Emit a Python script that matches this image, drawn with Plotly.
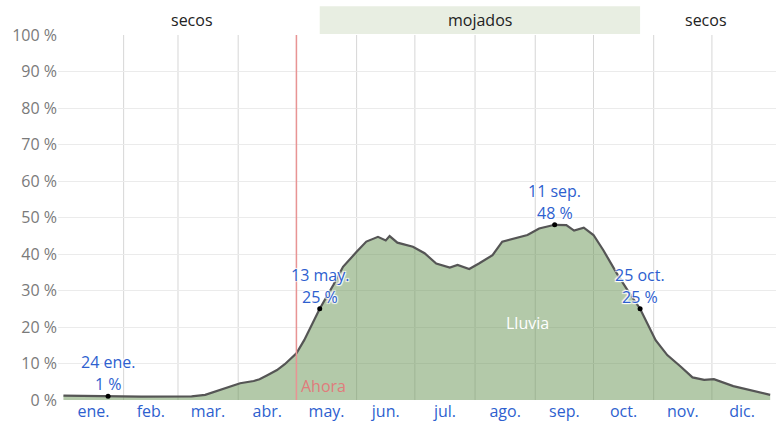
import plotly.graph_objects as go

# Daily chance of a wet day over the year (day of year, percent)
days = [0, 8, 15, 23, 30, 40, 50, 59, 66, 73, 78, 85, 91, 98, 101, 105, 110, 114,
        117, 120, 124, 132, 139, 144, 151, 156, 162, 166, 168, 172, 180, 186, 192,
        199, 203, 209, 214, 221, 226, 232, 239, 245, 253, 259, 263, 268, 273, 278,
        285, 291, 297, 305, 311, 318, 324, 330, 335, 345, 354, 364]
rain = [1.2, 1.1, 1.0, 1.0, 1.0, 0.9, 0.9, 0.8, 1.0, 1.4, 2.3, 3.5, 4.6, 5.2, 5.7,
        6.8, 8.2, 9.8, 11.4, 12.8, 16.4, 25.0, 31.5, 36.5, 40.6, 43.4, 44.7, 43.7,
        44.9, 43.1, 42.0, 40.2, 37.4, 36.3, 37.0, 35.9, 37.4, 39.7, 43.4, 44.3, 45.2,
        47.0, 48.0, 47.9, 46.4, 47.2, 45.2, 41.1, 34.7, 29.7, 25.0, 16.4, 12.3, 9.1,
        6.2, 5.5, 5.7, 3.8, 2.7, 1.4]

month_names = ["ene.", "feb.", "mar.", "abr.", "may.", "jun.",
               "jul.", "ago.", "sep.", "oct.", "nov.", "dic."]
month_starts = [0, 31, 59, 90, 120, 151, 181, 212, 243, 273, 304, 334, 365]
month_mids = [(a + b) / 2 for a, b in zip(month_starts[:-1], month_starts[1:])]

# Highlighted points: (day, value, label)
marks = [(23, 1.0, "24 ene."), (132, 25.0, "13 may."),
         (253, 48.0, "11 sep."), (297, 25.0, "25 oct.")]

# Seasons along the top band
wet_start, wet_end = 132, 297
today = 120

FONT = "Open Sans"
FS = 16
BLUE = "#2e5fcf"
GRID_H = "#ebebeb"
GRID_V = "#d6d6d6"

fig = go.Figure()
fig.add_trace(go.Scatter(
    x=days, y=rain, mode="lines", fill="tozeroy",
    line=dict(color="#555555", width=2.2),
    fillcolor="rgba(104,148,84,0.5)", hoverinfo="skip", showlegend=False))

fig.add_trace(go.Scatter(
    x=[m[0] for m in marks], y=[m[1] for m in marks], mode="markers",
    marker=dict(color="black", size=5), hoverinfo="skip", showlegend=False))

shapes = []
for b in month_starts[1:-1]:
    shapes.append(dict(type="line", xref="x", yref="paper", x0=b, x1=b, y0=0, y1=1,
                       line=dict(color=GRID_V, width=1), layer="below"))
shapes.append(dict(type="rect", xref="x", yref="paper", x0=wet_start, x1=wet_end,
                   y0=1.003, y1=1.079, fillcolor="#e8eee2", line=dict(width=0),
                   layer="below"))
shapes.append(dict(type="line", xref="x", yref="paper", x0=today, x1=today, y0=0, y1=1,
                   line=dict(color="#e89494", width=1.5), layer="above"))

halo = "1px 1px 1px white, -1px -1px 1px white, 1px -1px 1px white, -1px 1px 1px white"
annotations = []
for d, v, lab in marks:
    annotations.append(dict(x=d, y=v, text=lab, showarrow=False, yanchor="middle",
                            yshift=34, font=dict(family=FONT, size=FS, color=BLUE,
                                                 shadow=halo)))
    annotations.append(dict(x=d, y=v, text=f"{v:.0f} %", showarrow=False,
                            yanchor="middle", yshift=12,
                            font=dict(family=FONT, size=FS, color=BLUE, shadow=halo)))

for x0, x1, lab in [(0, wet_start, "secos"), (wet_start, wet_end, "mojados"),
                    (wet_end, 365, "secos")]:
    annotations.append(dict(x=(x0 + x1) / 2, y=1.04, xref="x", yref="paper", text=lab,
                            showarrow=False, yanchor="middle",
                            font=dict(family=FONT, size=FS, color="#222222")))

annotations.append(dict(x=239, y=21.0, text="Lluvia", showarrow=False,
                        font=dict(family=FONT, size=FS, color="white")))
annotations.append(dict(x=today, y=3.9, text="Ahora", showarrow=False, xanchor="left",
                        xshift=3, font=dict(family=FONT, size=FS, color="#e07c7c")))

fig.update_layout(
    width=778, height=422,
    margin=dict(l=58, r=2, t=35, b=22, autoexpand=False),
    paper_bgcolor="white", plot_bgcolor="white",
    shapes=shapes, annotations=annotations,
    xaxis=dict(range=[-2.8, 367], tickvals=month_mids, ticktext=month_names,
               showgrid=False, zeroline=False, showline=False, ticks="",
               automargin=False,
               tickfont=dict(family=FONT, size=FS, color=BLUE), fixedrange=True),
    yaxis=dict(range=[0, 100], tickvals=list(range(0, 101, 10)),
               ticktext=[f"{v} %" for v in range(0, 101, 10)],
               showgrid=True, gridcolor=GRID_H, gridwidth=1, zeroline=False,
               showline=False, ticks="", automargin=False,
               tickfont=dict(family=FONT, size=FS, color="#7a7a7a"), fixedrange=True),
)

fig.write_html("out.html")
